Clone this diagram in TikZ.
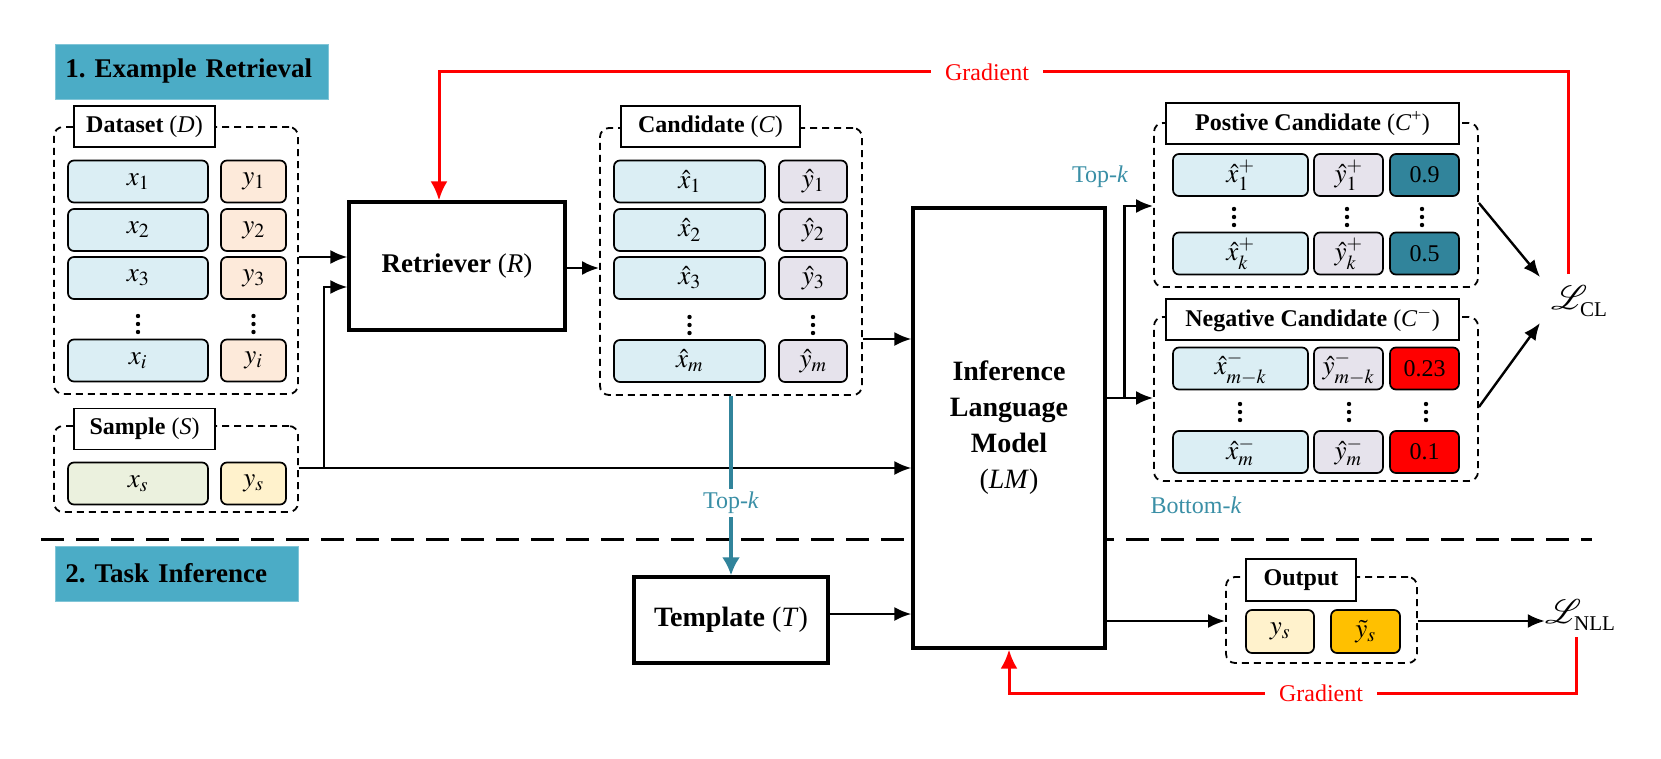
\documentclass[tikz,border=0pt]{standalone}
\usepackage{mathptmx}
\usepackage[no-math]{fontspec}
\setmainfont{Liberation Serif}
\usetikzlibrary{arrows.meta,calc}
\frenchspacing
\definecolor{titleblue}{HTML}{4BACC6}
\definecolor{cellblue}{HTML}{DBEEF4}
\definecolor{cellpeach}{HTML}{FDEADA}
\definecolor{celllav}{HTML}{E6E3EC}
\definecolor{cellgreen}{HTML}{EBF1DE}
\definecolor{cellyel}{HTML}{FFF2CC}
\definecolor{cellgold}{HTML}{FFC000}
\definecolor{valteal}{HTML}{31849B}
\definecolor{tealtxt}{HTML}{3A8FA6}
\definecolor{gradred}{HTML}{FF0000}
\newcommand\fTitle{\fontsize{27}{32}\selectfont\bfseries}
\newcommand\fBig{\fontsize{28}{36}\selectfont\bfseries}
\newcommand\fLbl{\fontsize{24}{28}\selectfont}
\newcommand\fCell{\fontsize{27}{31}\selectfont}
\newcommand\fVal{\fontsize{24}{28}\selectfont}
\newcommand\fNote{\fontsize{24}{28}\selectfont}
\newcommand\vdts[2]{\fill ({#1},{#2-8}) circle (2.2pt) ({#1},{#2}) circle (2.2pt) ({#1},{#2+8}) circle (2.2pt);}
\newcommand\lossname[1]{{\fontsize{34}{40}\selectfont$\mathcal{L}$}\kern-7pt\raisebox{-7pt}{\fontsize{21}{24}\selectfont #1}}
\tikzset{
  cell/.style={draw=black, line width=1.7pt, rounded corners=6pt, minimum height=42pt, inner sep=0pt, font=\fCell},
  valcell/.style={cell, font=\fVal},
  grp/.style={draw=black, line width=1.8pt, dash pattern=on 7pt off 5pt, rounded corners=9pt, inner sep=0pt},
  lbl/.style={draw=black, fill=white, line width=1.7pt, inner sep=0pt, minimum height=41pt, font=\fLbl},
  bigbox/.style={draw=black, fill=white, line width=3.2pt, inner sep=0pt, font=\fBig, align=center},
  titlebox/.style={fill=titleblue, draw=titleblue!70!white, line width=0.8pt, anchor=west, minimum height=55pt, inner xsep=10pt, align=left, font=\fTitle},
  arr/.style={-{Latex[length=17pt,width=14pt]}, line width=2.4pt},
  gradarr/.style={-{Latex[length=19pt,width=17pt]}, line width=3pt, draw=gradred},
  tealarr/.style={-{Latex[length=18pt,width=18pt]}, line width=4pt, draw=valteal},
  gradlbl/.style={fill=white, text=gradred, font=\fNote, inner sep=3pt},
  teallbl/.style={fill=white, text=tealtxt, font=\fNote, inner sep=3pt},
  seper/.style={line width=3pt, dash pattern=on 23pt off 12pt},
}
\begin{document}
\begin{tikzpicture}[x=1pt,y=-1pt]
\useasboundingbox[fill=white] (0,0) rectangle (1661,759);

% separator
\draw[seper] (41,539) -- (1592,539);

% titles
\node[titlebox, text width=253pt] (T1) at (55,71.5) {1. Example Retrieval};
\node[titlebox, text width=223pt] (T2) at (55,573.5) {2. Task Inference};

% Dataset
\node[grp, minimum width=244pt, minimum height=267pt] (D) at (176,260.5) {};
\node[lbl, minimum width=141pt] (Dl) at (144.5,126.5) {\textbf{Dataset} (\textit{D})};
\node[cell, fill=cellblue, minimum width=140pt] (dx1) at (138,181.5) {$x_1$};
\node[cell, fill=cellblue, minimum width=140pt] (dx2) at (138,230) {$x_2$};
\node[cell, fill=cellblue, minimum width=140pt] (dx3) at (138,278) {$x_3$};
\node[cell, fill=cellblue, minimum width=140pt] (dxi) at (138,360.5) {$x_i$};
\node[cell, fill=cellpeach, minimum width=65pt] (dy1) at (253.5,181.5) {$y_1$};
\node[cell, fill=cellpeach, minimum width=65pt] (dy2) at (253.5,230) {$y_2$};
\node[cell, fill=cellpeach, minimum width=65pt] (dy3) at (253.5,278) {$y_3$};
\node[cell, fill=cellpeach, minimum width=65pt] (dyi) at (253.5,360.5) {$y_i$};
\vdts{138}{324}
\vdts{253.5}{324}

% Sample
\node[grp, minimum width=244pt, minimum height=86pt] (S) at (176,469) {};
\node[lbl, minimum width=141pt] (Sl) at (144.5,429) {\textbf{Sample} (\textit{S})};
\node[cell, fill=cellgreen, minimum width=140pt] (sx) at (138,483.5) {$x_s$};
\node[cell, fill=cellyel, minimum width=65pt] (sy) at (253.5,483.5) {$y_s$};

% Retriever
\node[bigbox, font=\fontsize{27}{32}\selectfont\bfseries, minimum width=216pt, minimum height=128pt] (R) at (457,266) {Retriever \mdseries(\textit{R})};

% Candidate
\node[grp, minimum width=262pt, minimum height=267pt] (C) at (731,261.5) {};
\node[lbl, minimum width=179pt] (Cl) at (710.5,126.5) {\textbf{Candidate} (\textit{C})};
\node[cell, fill=cellblue, minimum width=151pt] (cx1) at (689.5,181.5) {$\hat{x}_1$};
\node[cell, fill=cellblue, minimum width=151pt] (cx2) at (689.5,230) {$\hat{x}_2$};
\node[cell, fill=cellblue, minimum width=151pt] (cx3) at (689.5,278) {$\hat{x}_3$};
\node[cell, fill=cellblue, minimum width=151pt] (cxm) at (689.5,361) {$\hat{x}_m$};
\node[cell, fill=celllav, minimum width=68pt] (cy1) at (813,181.5) {$\hat{y}_1$};
\node[cell, fill=celllav, minimum width=68pt] (cy2) at (813,230) {$\hat{y}_2$};
\node[cell, fill=celllav, minimum width=68pt] (cy3) at (813,278) {$\hat{y}_3$};
\node[cell, fill=celllav, minimum width=68pt] (cym) at (813,361) {$\hat{y}_m$};
\vdts{689.5}{325}
\vdts{813}{325}

% LM
\node[bigbox, minimum width=192pt, minimum height=440pt] (LM) at (1009,428) {Inference\\Language\\Model\\\mdseries(\textit{LM})};

% Template
\node[bigbox, minimum width=194pt, minimum height=86pt] (T) at (731,620) {Template \mdseries(\textit{T})};

% Positive
\node[grp, minimum width=324pt, minimum height=164pt] (P) at (1316,205) {};
\node[lbl, minimum width=293pt] (Pl) at (1312.5,123.5) {\textbf{Postive Candidate} (\textit{C}\textsuperscript{+})};
\node[cell, fill=cellblue, minimum width=135pt] (px1) at (1240.5,175) {$\hat{x}_1^{+}$};
\node[cell, fill=celllav, minimum width=69pt] (py1) at (1348.5,175) {$\hat{y}_1^{+}$};
\node[valcell, fill=valteal, minimum width=69pt] (pv1) at (1424.5,175) {0.9};
\node[cell, fill=cellblue, minimum width=135pt] (pxk) at (1240.5,253.5) {$\hat{x}_k^{+}$};
\node[cell, fill=celllav, minimum width=69pt] (pyk) at (1348.5,253.5) {$\hat{y}_k^{+}$};
\node[valcell, fill=valteal, minimum width=69pt] (pvk) at (1424.5,253.5) {0.5};
\vdts{1234}{217}
\vdts{1347}{217}
\vdts{1422}{217}

% Negative
\node[grp, minimum width=324pt, minimum height=164pt] (N) at (1316,399) {};
\node[lbl, minimum width=293pt] (Nl) at (1312.5,319.5) {\textbf{Negative Candidate} (\textit{C}\textsuperscript{$-$})};
\node[cell, fill=cellblue, minimum width=135pt] (nx1) at (1240.5,368.5) {$\hat{x}_{m-k}^{-}$};
\node[cell, fill=celllav, minimum width=69pt] (ny1) at (1348.5,368.5) {$\hat{y}_{m-k}^{-}$};
\node[valcell, fill=gradred, minimum width=69pt] (nv1) at (1424.5,368.5) {0.23};
\node[cell, fill=cellblue, minimum width=135pt] (nxm) at (1240.5,452) {$\hat{x}_m^{-}$};
\node[cell, fill=celllav, minimum width=69pt] (nym) at (1348.5,452) {$\hat{y}_m^{-}$};
\node[valcell, fill=gradred, minimum width=69pt] (nvm) at (1424.5,452) {0.1};
\vdts{1240}{412}
\vdts{1349}{412}
\vdts{1426}{412}

% Output
\node[grp, minimum width=191pt, minimum height=86pt] (O) at (1321.5,620) {};
\node[lbl, minimum width=110pt, minimum height=42pt] (Ol) at (1301,580) {\textbf{Output}};
\node[cell, fill=cellyel, minimum width=68pt, minimum height=43pt] (oy) at (1280,631.5) {$y_s$};
\node[cell, fill=cellgold, minimum width=69pt, minimum height=43pt] (oyt) at (1365.5,631.5) {$\tilde{y}_s$};

% losses
\node[inner sep=0pt] (LCL) at (1579,301) {\lossname{CL}};
\node[inner sep=0pt] (LNLL) at (1580,615.5) {\lossname{NLL}};

% connectors
\draw[arr] ([yshift=3.5pt]D.east) coordinate (a1) -- (a1 -| R.west);
\draw[arr] ([yshift=1pt]S.east) coordinate (a2) -- (a2 -| LM.west);
\draw[arr] ([xshift=25pt]a2) |- ([yshift=-21pt]R.west);
\draw[arr] ([yshift=-2pt]R.east) coordinate (a3) -- (a3 -| C.west);
\draw[arr] ([yshift=-77.5pt]C.east) coordinate (a4) -- (a4 -| LM.west);
\draw[arr] ([yshift=30pt]LM.east) coordinate (a5) -- (a5 -| N.west);
\draw[arr] ([xshift=18pt]a5) |- ([yshift=-1pt]P.west);
\draw[arr] ([yshift=2pt]P.east) -- ([shift={(-39pt,24pt)}]LCL.center);
\draw[arr] ([yshift=-8pt]N.east) -- ([shift={(-39pt,-22pt)}]LCL.center);
\draw[arr] ([yshift=6pt]T.east) coordinate (a6) -- (a6 -| LM.west);
\draw[arr] ([yshift=-193pt]LM.east) coordinate (a7) -- (a7 -| O.west);
\draw[arr] ([yshift=-1pt]O.east) coordinate (a8) -- (a8 -| LNLL.west);

% teal top-k
\draw[tealarr] (C.south) -- (T.north);
\node[teallbl] (TK2) at (731,503) {Top-\textit{k}};
\node[teallbl, inner sep=0pt] (TK1) at (1100,177) {Top-\textit{k}};
\node[teallbl, inner sep=0pt] (BK) at (1196,505) {Bottom-\textit{k}};

% gradients
\coordinate (g1) at (987,72);
\coordinate (g2) at (1321,693);
\draw[gradarr] ([shift={(-11pt,27pt)}]LCL.center) |- (g1) -| ([xshift=-18pt]R.north);
\node[gradlbl, inner xsep=14pt] (G1) at (g1) {Gradient};
\draw[gradarr] ([shift={(-4pt,-21.5pt)}]LNLL.center) |- (g2) -| (LM.south);
\node[gradlbl, inner xsep=14pt] (G2) at (g2) {Gradient};
\end{tikzpicture}
\end{document}
